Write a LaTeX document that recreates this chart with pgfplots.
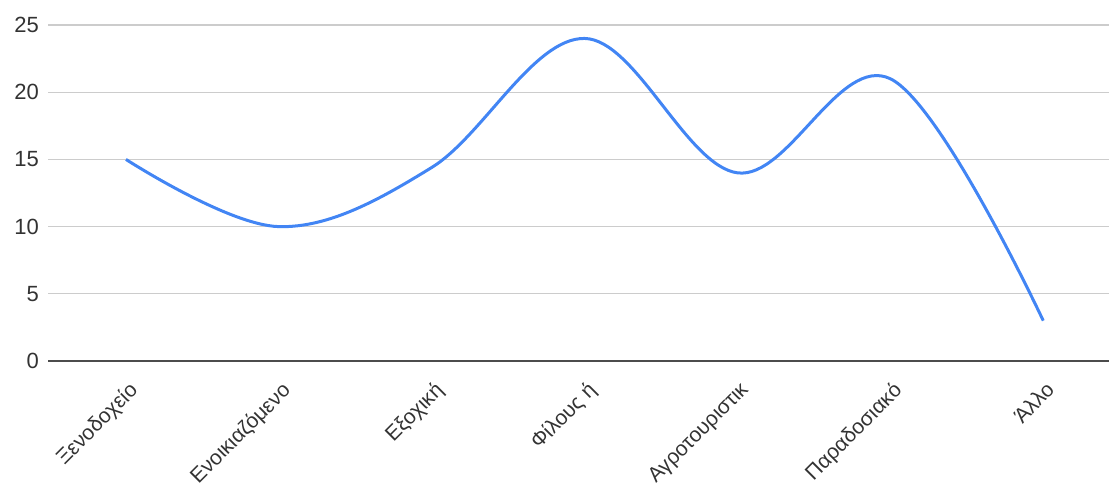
\documentclass[border=0pt]{standalone}
\usepackage{pgfplots}
\pgfplotsset{compat=1.18}
\usepackage{fontspec}
\setmainfont{Liberation Sans}
\definecolor{gblue}{HTML}{4285F4}
\definecolor{glabel}{HTML}{333333}
\begin{document}
\begin{tikzpicture}
\begin{axis}[
  scale only axis,
  width=530.5pt, height=168pt,
  at={(0,0)}, anchor=south west,
  xmin=-0.51, xmax=6.43,
  ymin=0, ymax=25,
  ytick={0,5,10,15,20,25},
  xtick={0,1,2,3,4,5,6},
  xticklabels={Ξενοδοχείο,Ενοικιαζόμενο,Εξοχική,Φίλους ή,Αγροτουριστικ,Παραδοσιακό,Άλλο},
  axis line style={draw=none},
  major tick length=0pt,
  ymajorgrids,
  grid style={color=black!20, line width=0.6pt},
  extra y ticks={0},
  extra y tick labels={},
  extra y tick style={grid style={color=black!70, line width=1pt}},
  /pgf/number format/assume math mode=true,
  tick label style={font=\fontsize{11}{13}\selectfont, text=glabel},
  x tick label style={font=\fontsize{10.5}{12}\selectfont, rotate=45, anchor=north east, inner sep=1pt, yshift=-6.2pt, xshift=-5.2pt},
  y tick label style={xshift=-1pt},
  clip=false,
]
\addplot[gblue, line width=1.5pt, smooth, tension=0.6] coordinates {
  (0,15) (1,10) (2,14.4) (3,24) (4,14) (5,21) (6,3)
};
\end{axis}
\pgfresetboundingbox
\useasboundingbox (-24pt,-67pt) rectangle (530.5pt,180.5pt);
\end{tikzpicture}
\end{document}
